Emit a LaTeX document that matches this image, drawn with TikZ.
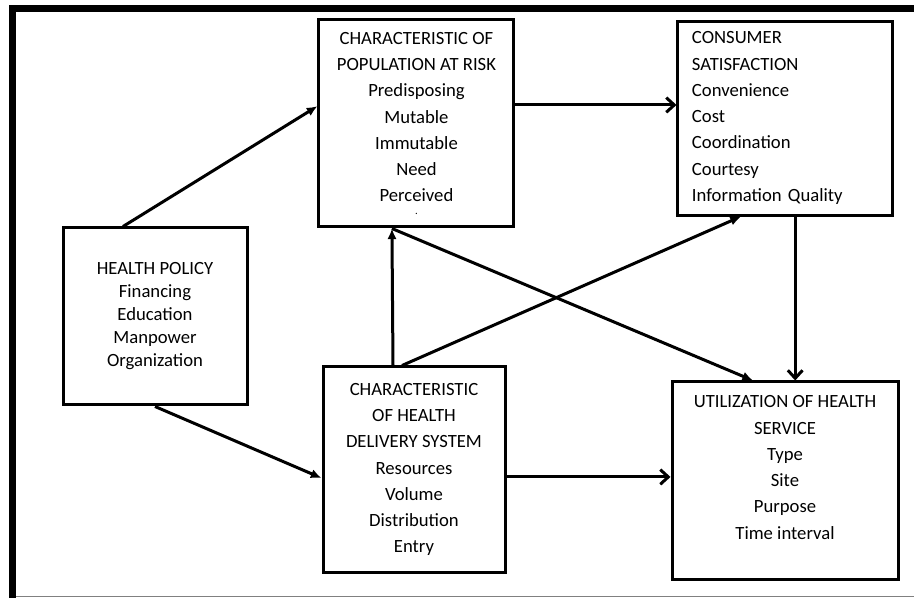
\documentclass[tikz,border=0pt]{standalone}
\usepackage{fontspec}
\setmainfont{Carlito}
\usetikzlibrary{positioning,arrows.meta}

\tikzset{
  box/.style={draw, line width=2.25pt, align=center, inner sep=0pt,
    font=\fontsize{14}{19.7}\selectfont},
  link/.style={line width=2.25pt, -{Straight Barb[length=6pt,width=11pt,line width=2.25pt]}},
  slant/.style={line width=2.25pt, -{Latex[length=8pt,width=7pt]}}
}

\begin{document}
\begin{tikzpicture}[x=0.75pt,y=-0.75pt,every node/.style={on grid}]
    \useasboundingbox (0,0) rectangle (914,598);
    % frame
    \draw[line width=5.25pt] (914,8.5) -- (12.5,8.5) -- (12.5,598);
    \draw[gray,line width=0.75pt] (16,596) -- (914,596);

    \node[box,minimum width=138pt,minimum height=132.75pt,
      font=\fontsize{14}{17.25}\selectfont] (H) at (155,316.5)
      {HEALTH POLICY\\Financing\\Education\\Manpower\\Organization};
    \node[box,above right=144.75pt and 196.1pt of H,
      minimum width=146.25pt,minimum height=155.25pt] (P)
      {CHARACTERISTIC OF\\POPULATION AT RISK\\Predisposing\\Mutable\\Immutable\\Need\\Perceived\\[-10pt]{\footnotesize .}};
    \node[box,above right=4.1pt and 276.75pt of P,align=left,
      text width=140.25pt,inner xsep=10.5pt,minimum height=145.5pt] (C)
      {CONSUMER\\SATISFACTION\\Convenience\\Cost\\Coordination\\Courtesy\\Information Quality};
    \node[box,below right=114.75pt and 194.25pt of H,
      minimum width=136.5pt,minimum height=153.75pt] (D)
      {CHARACTERISTIC\\OF HEALTH\\DELIVERY SYSTEM\\Resources\\Volume\\Distribution\\Entry};
    \node[box,below right=8.25pt and 278.25pt of D,
      minimum width=169.5pt,minimum height=147.75pt] (U)
      {UTILIZATION OF HEALTH\\SERVICE\\Type\\Site\\Purpose\\Time interval\\ \mbox{}};

    \draw[slant] ([xshift=-24pt]H.north) -- ([yshift=13pt]P.west);
    \draw[slant] (H.south) -- ([yshift=-6.4pt]D.west);
    \draw[slant] ([xshift=-15.75pt]D.north) -- ([xshift=-18.4pt]P.south);
    \draw[slant] ([xshift=-18.4pt]P.south) -- ([xshift=-24pt]U.north);
    \draw[slant] ([xshift=-9pt]D.north) -- ([xshift=-33.4pt]C.south);
    \draw[link] ([yshift=13.9pt]P.east) -- ([yshift=13.9pt]P.east -| C.west);
    \draw[link] ([yshift=-5.6pt]D.east) -- ([yshift=-5.6pt]D.east -| U.west);
    \draw[link] ([xshift=7.3pt]C.south) -- ([xshift=7.3pt]C.south |- U.north);
\end{tikzpicture}
\end{document}
